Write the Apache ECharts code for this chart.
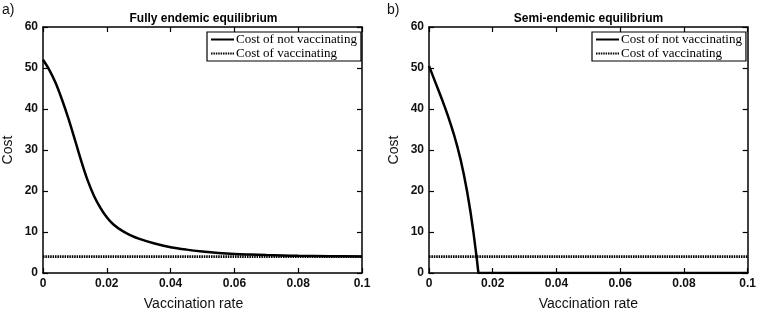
<!DOCTYPE html>
<html>
<head>
<meta charset="utf-8">
<script src="https://cdn.jsdelivr.net/npm/echarts@6/dist/echarts.min.js"></script>
<style>
html,body{margin:0;padding:0;background:#fff;}
#chart{width:759px;height:316px;}
</style>
</head>
<body>
<div id="chart"></div>
<script>
// ---- data ----
const panelTitles = ['Fully endemic equilibrium', 'Semi-endemic equilibrium'];
const panelLetters = ['a)', 'b)'];
const seriesNames = ['Cost of not vaccinating', 'Cost of vaccinating'];
const xTicks = [0, 0.02, 0.04, 0.06, 0.08, 0.1];
const yTicks = [0, 10, 20, 30, 40, 50, 60];

// panel a: fully endemic
const rateA = [0, 0.002, 0.004, 0.006, 0.008, 0.010, 0.012, 0.014, 0.016, 0.018, 0.020, 0.022, 0.025, 0.0275, 0.030, 0.035, 0.040, 0.045, 0.050, 0.055, 0.060, 0.065, 0.070, 0.075, 0.080, 0.090, 0.100];
const costNotVacA = [52, 49.5, 46.3, 42.2, 37.6, 32.5, 27.3, 22.6, 18.8, 15.9, 13.6, 11.9, 10.2, 9.2, 8.4, 7.2, 6.3, 5.7, 5.25, 4.9, 4.65, 4.5, 4.38, 4.28, 4.2, 4.1, 4.05];

// panel b: semi-endemic
const rateB = [0, 0.001, 0.002, 0.003, 0.004, 0.005, 0.006, 0.007, 0.008, 0.009, 0.010, 0.011, 0.012, 0.013, 0.014, 0.015, 0.0155, 0.1];
const costNotVacB = [50.5, 48.5, 46.5, 44.5, 42.5, 40.4, 38.2, 35.8, 33.3, 30.5, 27.4, 23.8, 19.7, 15.0, 9.6, 3.5, 0, 0];

// cost of vaccinating (both panels)
const rateVac = [0, 0.1];
const costVac = [4, 4];

// ---- chart ----
const zip = (xs, ys) => xs.map((x, i) => [x, ys[i]]);
const chart = echarts.init(document.getElementById('chart'));
const FONT = 'Liberation Sans, Arial, sans-serif';
const grids = [
  {left: 43, top: 27, width: 319, height: 249},
  {left: 429, top: 27, width: 319, height: 249}
];
const xAxes = [], yAxes = [];
grids.forEach((g, gi) => {
  const common = {
    type: 'value', gridIndex: gi, min: xTicks[0], max: xTicks[xTicks.length - 1], interval: 0.02,
    axisLine: {show: true, onZero: false, lineStyle: {color: '#000', width: 1.5}},
    axisTick: {show: true, inside: true, length: 5, lineStyle: {color: '#000', width: 1.2}},
    splitLine: {show: false}
  };
  xAxes.push(Object.assign({}, common, {
    position: 'bottom',
    name: 'Vaccination rate', nameLocation: 'middle', nameGap: 24,
    nameTextStyle: {fontFamily: FONT, fontSize: 14, color: '#111', padding: gi === 0 ? [0, 18, 0, 0] : 0},
    axisLabel: {fontFamily: FONT, fontSize: 12, fontWeight: 'bold', color: '#111', margin: 5}
  }));
  xAxes.push(Object.assign({}, common, {position: 'top', axisLabel: {show: false}}));
  const ycommon = {
    type: 'value', gridIndex: gi, min: yTicks[0], max: yTicks[yTicks.length - 1], interval: 10,
    axisLine: {show: true, onZero: false, lineStyle: {color: '#000', width: 1.5}},
    axisTick: {show: true, inside: true, length: 5, lineStyle: {color: '#000', width: 1.2}},
    splitLine: {show: false}
  };
  yAxes.push(Object.assign({}, ycommon, {
    position: 'left',
    name: 'Cost', nameLocation: 'middle', nameGap: 28, nameRotate: 90,
    nameTextStyle: {fontFamily: FONT, fontSize: 14, color: '#111'},
    axisLabel: {fontFamily: FONT, fontSize: 12, fontWeight: 'bold', color: '#111', margin: 5}
  }));
  yAxes.push(Object.assign({}, ycommon, {position: 'right', axisLabel: {show: false}}));
});

const solidStyle = {color: '#000', width: 2.5};
const dotStyle = {color: '#000', width: 2.6, type: [1.5, 0.9]};
const series = [];
[[rateA, costNotVacA], [rateB, costNotVacB]].forEach((d, gi) => {
  series.push({
    name: seriesNames[0], type: 'line', xAxisIndex: gi * 2, yAxisIndex: gi * 2,
    data: zip(d[0], d[1]), symbol: 'none', smooth: gi === 0 ? 0.35 : false,
    lineStyle: solidStyle, itemStyle: {color: '#000'}, z: 3, silent: true
  });
  series.push({
    name: seriesNames[1], type: 'line', xAxisIndex: gi * 2, yAxisIndex: gi * 2,
    data: zip(rateVac, costVac), symbol: 'none',
    lineStyle: dotStyle, itemStyle: {color: '#000'}, z: 2, silent: true
  });
});

const legendBase = {
  orient: 'vertical', top: 32, padding: [1, 4, 1, 3], itemGap: 1,
  itemWidth: 23, itemHeight: 14, borderColor: '#000', borderWidth: 1.2,
  backgroundColor: '#fff', data: seriesNames, selectedMode: false,
  itemStyle: {color: 'rgba(0,0,0,0)', borderColor: 'rgba(0,0,0,0)', borderWidth: 0},
  textStyle: {fontFamily: 'Liberation Serif, DejaVu Serif, serif', fontSize: 13, color: '#000', padding: [0, 0, 0, -3]}
};

chart.setOption({
  animation: false,
  backgroundColor: '#fff',
  title: panelTitles.map((t, i) => ({
    text: t, left: grids[i].left + grids[i].width / 2 + (i === 0 ? 1 : 0), top: 13, textAlign: 'center', padding: 0,
    textStyle: {fontFamily: FONT, fontSize: 12, fontWeight: 'bold', color: '#000'}
  })),
  graphic: panelLetters.map((t, i) => ({
    type: 'text', left: i === 0 ? 2 : 387, top: 3,
    style: {text: t, font: '14px ' + FONT, fill: '#111'}
  })),
  grid: grids,
  xAxis: xAxes,
  yAxis: yAxes,
  legend: [
    Object.assign({}, legendBase, {left: 207}),
    Object.assign({}, legendBase, {left: 592})
  ],
  series: series
});
</script>
</body>
</html>
